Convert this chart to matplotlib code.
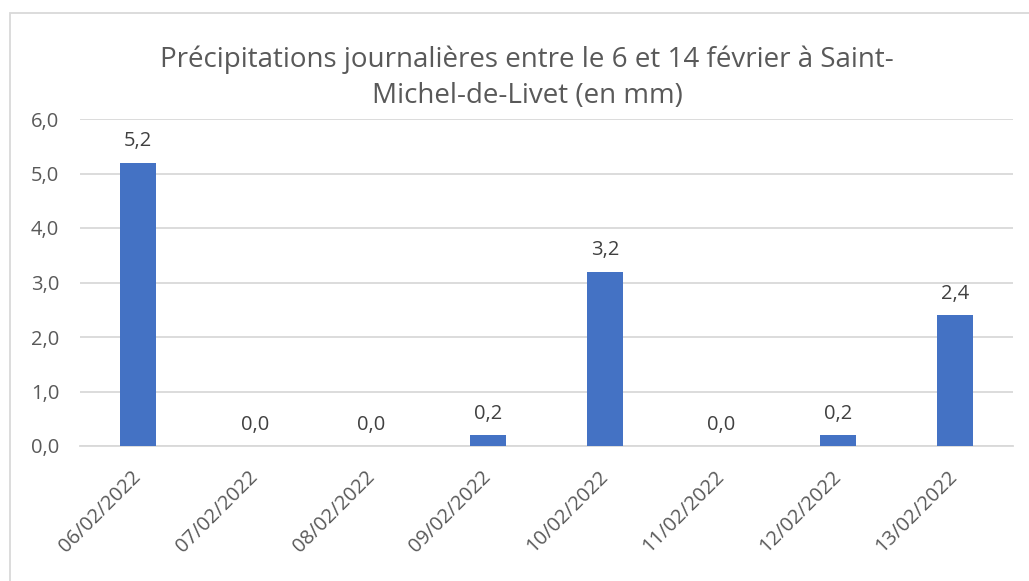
import matplotlib
matplotlib.use("Agg")
import matplotlib.pyplot as plt
from matplotlib.patches import Rectangle

dates = ["06/02/2022", "07/02/2022", "08/02/2022", "09/02/2022",
         "10/02/2022", "11/02/2022", "12/02/2022", "13/02/2022"]
precip = [5.2, 0.0, 0.0, 0.2, 3.2, 0.0, 0.2, 2.4]
yticks = [0, 1, 2, 3, 4, 5, 6]
title = "Précipitations journalières entre le 6 et 14 février à Saint-\nMichel-de-Livet (en mm)"

plt.rcParams['font.family'] = ['Open Sans', 'DejaVu Sans']

W, H = 1029, 581
fig = plt.figure(figsize=(W / 100, H / 100), dpi=100)
ax = fig.add_axes([80 / W, 1 - 446 / H, (1013 - 80) / W, (446 - 119) / H])

x = list(range(len(dates)))
ax.bar(x, precip, width=0.31, color="#4472C4", zorder=3)
for xi, v in zip(x, precip):
    ax.annotate(f"{v:.1f}".replace(".", ","), (xi, v), xytext=(0, 8),
                textcoords="offset points", ha="center", va="bottom",
                fontsize=14.5, color="#404040")

ax.set_xlim(-0.5, len(dates) - 0.5)
ax.set_ylim(0, 6)
ax.set_yticks(yticks)
ax.set_yticklabels([f"{t:.1f}".replace(".", ",") for t in yticks])
ax.set_xticks(x)
ax.set_xticklabels(dates, rotation=45, ha="right", va="center",
                   rotation_mode="anchor")
ax.tick_params(axis="both", length=0, labelsize=14.5, colors="#595959")
ax.tick_params(axis="y", pad=15)
ax.tick_params(axis="x", pad=20)
ax.grid(axis="y", color="#D9D9D9", linewidth=1.3, zorder=0)
for s in ["top", "right", "left"]:
    ax.spines[s].set_visible(False)
ax.spines["bottom"].set_color("#D9D9D9")
ax.spines["bottom"].set_linewidth(1.3)

fig.text(527 / W, 1 - 78 / H, title, ha="center", va="center",
         fontsize=20, color="#595959", linespacing=1.38)

fig.patches.append(Rectangle((10 / W, -0.1), 1.2, 1 - 13 / H + 0.1,
                             transform=fig.transFigure, fill=False,
                             edgecolor="#D9D9D9", linewidth=1.3))

fig.savefig("out.png", dpi=100)
